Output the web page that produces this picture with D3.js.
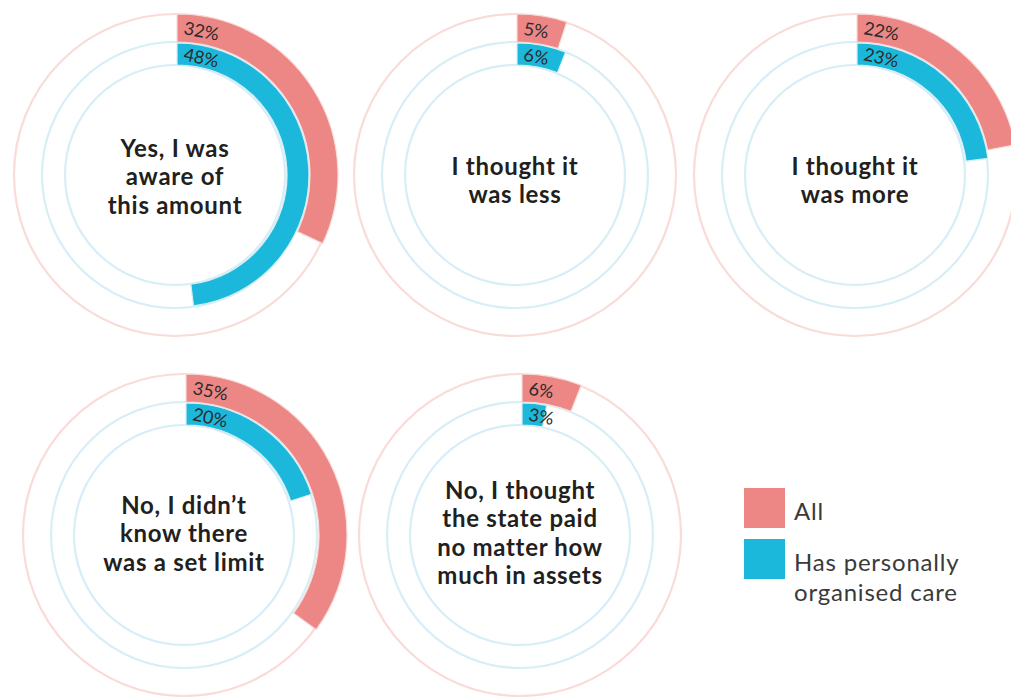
<!DOCTYPE html>
<html>
<head>
<meta charset="utf-8">
<script src="https://cdn.jsdelivr.net/npm/d3@7"></script>
<style>
  html, body { margin: 0; padding: 0; background: #ffffff; }
  svg { display: block; }
</style>
</head>
<body>
<svg id="chart" width="1011" height="697"></svg>
<script>
// ---- data ----
const categories = [
  "Yes, I was aware of this amount",
  "I thought it was less",
  "I thought it was more",
  "No, I didn’t know there was a set limit",
  "No, I thought the state paid no matter how much in assets"
];
const categoryLines = [
  ["Yes, I was", "aware of", "this amount"],
  ["I thought it", "was less"],
  ["I thought it", "was more"],
  ["No, I didn’t", "know there", "was a set limit"],
  ["No, I thought", "the state paid", "no matter how", "much in assets"]
];
const allValues = [32, 5, 22, 35, 6];
const careValues = [48, 6, 23, 20, 3];
const seriesNames = ["All", "Has personally organised care"];
const legendLines = [["All"], ["Has personally", "organised care"]];

// ---- layout / style ----
const centers = [[175, 175], [515, 175], [855, 175], [184, 535], [520, 535]];
const titleShift = [10, 14, 14, 7, 6.5];
const colors = { all: "#ec8785", care: "#1cb8dc", allTrack: "#f9dcd8", careTrack: "#d7eef7" };
const rOuter = 161, rMid = 133, rInner = 110;

const svg = d3.select("#chart");
const angle = d3.scaleLinear().domain([0, 100]).range([0, 2 * Math.PI]);
const arcGen = d3.arc();

categories.forEach((cat, i) => {
  const [cx, cy] = centers[i];
  const g = svg.append("g").attr("transform", `translate(${cx},${cy})`);

  // tracks
  g.append("circle").attr("r", rOuter).attr("fill", "none")
    .attr("stroke", colors.allTrack).attr("stroke-width", 2.2);
  g.append("circle").attr("r", rMid).attr("fill", "none")
    .attr("stroke", colors.careTrack).attr("stroke-width", 2.2);
  g.append("circle").attr("r", rInner).attr("fill", "none")
    .attr("stroke", colors.careTrack).attr("stroke-width", 2.2);

  const series = [
    { v: allValues[i], r0: rMid, r1: rOuter, fill: colors.all, stroke: colors.allTrack },
    { v: careValues[i], r0: rInner, r1: rMid - 1, fill: colors.care, stroke: colors.careTrack }
  ];

  series.forEach(s => {
    g.append("path")
      .attr("d", arcGen({ innerRadius: s.r0, outerRadius: s.r1, startAngle: 0, endAngle: angle(s.v) }))
      .attr("transform", "translate(2,0)")
      .attr("fill", s.fill)
      .attr("stroke", s.stroke)
      .attr("stroke-width", 1.2);
  });

  series.forEach(s => {
    const rm = (s.r0 + s.r1) / 2;
    const t = g.append("text")
      .attr("text-anchor", "middle")
      .attr("dominant-baseline", "central")
      .attr("font-family", "Lato, 'Open Sans', sans-serif")
      .attr("font-size", 18)
      .attr("fill", "#2b2b2b")
      .text(s.v + "%");
    const w = t.node().getComputedTextLength();
    const a = (9 + w / 2) / rm;
    t.attr("transform", `rotate(${a * 180 / Math.PI}) translate(0,${-rm})`);
  });

  // center title
  const lines = categoryLines[i];
  const lh = 28.5;
  const title = g.append("text")
    .attr("text-anchor", "middle")
    .attr("font-family", "Lato, 'Open Sans', sans-serif")
    .attr("font-weight", "bold")
    .attr("font-size", 24)
    .attr("letter-spacing", 0.7)
    .attr("fill", "#231f20");
  lines.forEach((ln, j) => {
    title.append("tspan")
      .attr("x", 0)
      .attr("y", titleShift[i] + (j - (lines.length - 1) / 2) * lh)
      .text(ln);
  });
});

// legend
const legend = svg.append("g").attr("transform", "translate(744,488)");
const legendColors = [colors.all, colors.care];
const legendOffsets = [0, 51];
seriesNames.forEach((name, k) => {
  const lg = legend.append("g").attr("transform", `translate(0,${legendOffsets[k]})`);
  lg.append("rect").attr("width", 41).attr("height", 40).attr("fill", legendColors[k]);
  const t = lg.append("text")
    .attr("font-family", "Lato, 'Open Sans', sans-serif")
    .attr("font-size", 24)
    .attr("letter-spacing", 0.8)
    .attr("fill", "#3a3a3a");
  legendLines[k].forEach((ln, j) => {
    t.append("tspan").attr("x", 50).attr("y", 32 + j * 30).text(ln);
  });
});
</script>
</body>
</html>
